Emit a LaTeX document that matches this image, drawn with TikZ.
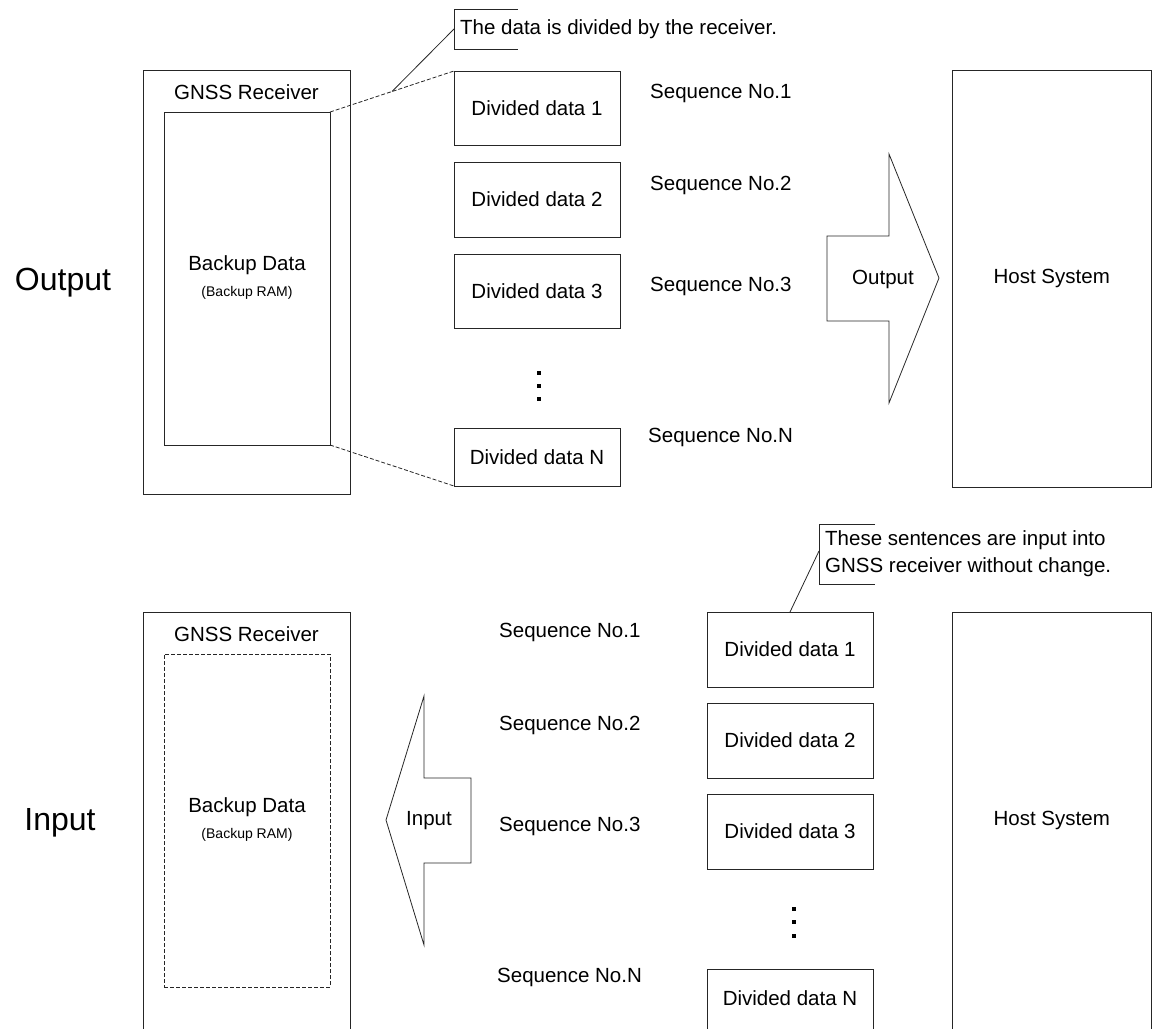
\documentclass[tikz,border=0pt]{standalone}
\usepackage{fontspec}
\setmainfont{Liberation Sans}
\usetikzlibrary{calc}
\newcommand{\fsmain}{\fontsize{20.5}{25}\selectfont}
\newcommand{\fssmall}{\fontsize{14}{17}\selectfont}
\newcommand{\fsbig}{\fontsize{32}{38}\selectfont}
\tikzset{
  ln/.style={line width=0.8pt, draw=black!85},
  box/.style={ln, rectangle, inner sep=0pt, outer sep=0pt, font=\fsmain},
  dbox/.style={box, dashed, dash pattern=on 4pt off 2pt},
  lbl/.style={inner sep=0pt, font=\fsmain},
  lblL/.style={lbl, anchor=west},
  small/.style={inner sep=0pt, font=\fssmall},
  big/.style={inner sep=0pt, font=\fsbig},
  dotsq/.style={fill=black, minimum size=4pt, inner sep=0pt, rectangle},
  bigarrow/.style={ln, fill=white, line join=miter},
  dlink/.style={ln, dashed, dash pattern=on 4pt off 2pt},
}
\begin{document}
\begin{tikzpicture}[x=1pt, y=-1pt]
\useasboundingbox (0,0) rectangle (1153,1028);
\clip (0,0) rectangle (1153,1028);

% ================= OUTPUT (top) =================
\node[big] (outlbl) at (63,283) {Output};

\node[box, minimum width=207pt, minimum height=424pt] (rx1) at (246.5,282) {};
\node[lbl] (rx1t) at (246.5,92) {GNSS Receiver};
\node[box, minimum width=166pt, minimum height=333pt] (mem1) at (247,278.5) {};
\node[lbl] (bd1) at (247,265) {Backup Data};
\node[small] (br1) at (247,293) {(Backup RAM)};

\node[box, minimum width=166pt, minimum height=74pt] (a1) at (537,108) {Divided data 1};
\node[box, minimum width=166pt, minimum height=75pt] (a2) at (537,199.5) {Divided data 2};
\node[box, minimum width=166pt, minimum height=74pt] (a3) at (537,291) {Divided data 3};
\node[box, minimum width=166pt, minimum height=58pt] (aN) at (537,457) {Divided data N};

\node[dotsq] (ad1) at (539,373) {};
\node[dotsq] (ad2) at (539,386) {};
\node[dotsq] (ad3) at (539,399) {};

\node[lblL] (sa1) at (650,93) {Sequence No.1};
\node[lblL] (sa2) at (650,185) {Sequence No.2};
\node[lblL] (sa3) at (650,286) {Sequence No.3};
\node[lblL] (saN) at (648,437) {Sequence No.N};

\draw[dlink] (mem1.north east) -- (a1.north west);
\draw[dlink] (mem1.south east) -- (aN.south west);

% callout 1
\draw[ln] (518,9) -- (454,9) coordinate (cb1) -- (454,49) -- (518,49);
\coordinate (cl1) at (454,29);
\node[lblL] (ct1) at (460,29) {The data is divided by the receiver.};
\coordinate (cm1) at ($(mem1.north east)!0.5!(a1.north west)$);
\draw[ln] (cl1) -- (cm1);

% output arrow
\draw[bigarrow] (827,236) -- (889,236) -- (889,154) -- (939,278) -- (889,403) -- (889,321) -- (827,321) -- cycle;
\node[lbl] (outarr) at (883,279) {Output};

\node[box, minimum width=199.5pt, minimum height=417pt] (host1) at (1051.75,278.5) {Host System};

% ================= INPUT (bottom) =================
\node[big] (inlbl) at (60,823) {Input};

\node[box, minimum width=207pt, minimum height=430pt] (rx2) at (246.5,827) {};
\node[lbl] (rx2t) at (246.5,634) {GNSS Receiver};
\node[dbox, minimum width=166pt, minimum height=333pt] (mem2) at (247,820.5) {};
\node[lbl] (bd2) at (247,807) {Backup Data};
\node[small] (br2) at (247,835) {(Backup RAM)};

% input arrow
\draw[bigarrow] (471,778) -- (424,778) -- (424,696) -- (386,820) -- (424,945) -- (424,863) -- (471,863) -- cycle;
\node[lbl] (inarr) at (429,821) {Input};

\node[lblL] (sb1) at (499,632) {Sequence No.1};
\node[lblL] (sb2) at (499,725) {Sequence No.2};
\node[lblL] (sb3) at (499,826) {Sequence No.3};
\node[lblL] (sbN) at (497,977) {Sequence No.N};

\node[box, minimum width=166pt, minimum height=75pt] (b1) at (790,649.5) {Divided data 1};
\node[box, minimum width=166pt, minimum height=75pt] (b2) at (790,740.5) {Divided data 2};
\node[box, minimum width=166pt, minimum height=75pt] (b3) at (790,831.5) {Divided data 3};
\node[box, minimum width=166pt, minimum height=66pt] (bN) at (790,1002) {};
\node[lbl] (bNt) at (790,998) {Divided data N};

\node[dotsq] (bd1d) at (794,909) {};
\node[dotsq] (bd2d) at (794,922) {};
\node[dotsq] (bd3d) at (794,936) {};

% callout 2
\draw[ln] (875,524) -- (819,524) -- (819,584) -- (875,584);
\coordinate (cl2) at (819,551);
\node[lblL] (ct2a) at (825,540) {These sentences are input into};
\node[lblL] (ct2b) at (825,567) {GNSS receiver without change.};
\draw[ln] (cl2) -- (b1.north);

\node[box, minimum width=199.5pt, minimum height=430pt] (host2) at (1051.75,827) {};
\node[lbl] (host2t) at (1051.75,820) {Host System};
\end{tikzpicture}
\end{document}
